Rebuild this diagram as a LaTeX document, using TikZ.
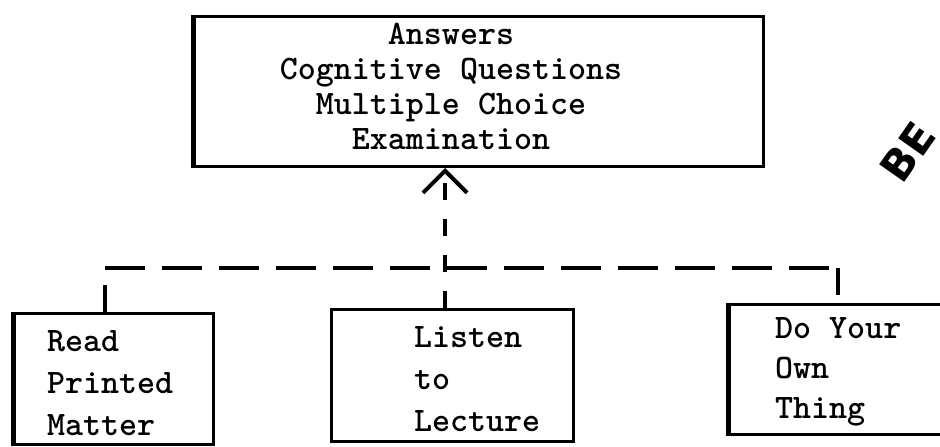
\documentclass[tikz,border=0pt]{standalone}
\usepackage{fontspec}
\usetikzlibrary{arrows.meta}
\newfontfamily\stampfont{DejaVu Sans}

\begin{document}
\begin{tikzpicture}[x=1pt, y=-1pt,
  box/.style={draw, rectangle, line width=3pt, inner sep=0pt, anchor=north west},
  typed/.style={font=\ttfamily\bfseries\fontsize{34.3}{#1}\selectfont, inner sep=0pt},
  edge/.style={line width=5pt},
  hdash/.style={line width=4.5pt, dash pattern=on 40pt off 17pt},
  vdash/.style={line width=4pt, dash pattern=on 17pt off 19pt},
  tick/.style={line width=4pt, dash pattern=on 27pt off 20pt},
  stamp/.style={font=\stampfont\bfseries\fontsize{42}{42}\selectfont, inner sep=0pt}]

  % page frame and clipping (the right-hand box runs off the sheet)
  \fill[white] (0,0) rectangle (940,447);
  \useasboundingbox (0,0) rectangle (940,447);
  \clip (0,0) rectangle (940,447);

  % boxes
  \node[box, minimum width=569pt, minimum height=150pt] (T) at (193,15) {};
  \node[box, minimum width=199pt, minimum height=131pt] (L) at (13,312) {};
  \node[box, minimum width=242pt, minimum height=132pt] (M) at (330,308) {};
  \node[box, minimum width=260pt, minimum height=130pt] (R) at (728,303) {};

  % heavier left-hand rules, as typed over twice
  \draw[edge] (T.north west) -- (T.south west);
  \draw[edge] (L.north west) -- (L.south west);
  \draw[edge] (R.north west) -- (R.south west);

  % box texts
  \node[typed=35, align=center, anchor=north] (Ttext) at (451,23)
    {Answers\\Cognitive Questions\\Multiple Choice\\Examination};
  \node[typed=42, align=left, anchor=north west] (Ltext) at (47,330)
    {Read\\Printed\\Matter};
  \node[typed=42, align=left, anchor=north west] (Mtext) at (414,326)
    {Listen\\to\\Lecture};
  \node[typed=40, align=left, anchor=north west] (Rtext) at (775,317)
    {Do Your\\Own\\Thing};

  % dashed bus joining the three activities
  \coordinate (busL) at (105,268);
  \coordinate (busR) at (838,268);
  \coordinate (stem) at (445,268);
  \draw[tick] (L.north -| busL) -- (busL);
  \draw[hdash] (busL) -- (busR);
  \draw[tick] (busR) -- (R.north -| busR);

  % dashed arrow up to the examination box
  \draw[vdash, -{Straight Barb[length=22pt, width=44pt]}]
    (M.north -| stem) -- (T.south -| stem);

  % corner stamp
  \node[stamp, rotate=55, anchor=south west] (mark) at (903,186) {BE};
\end{tikzpicture}
\end{document}
